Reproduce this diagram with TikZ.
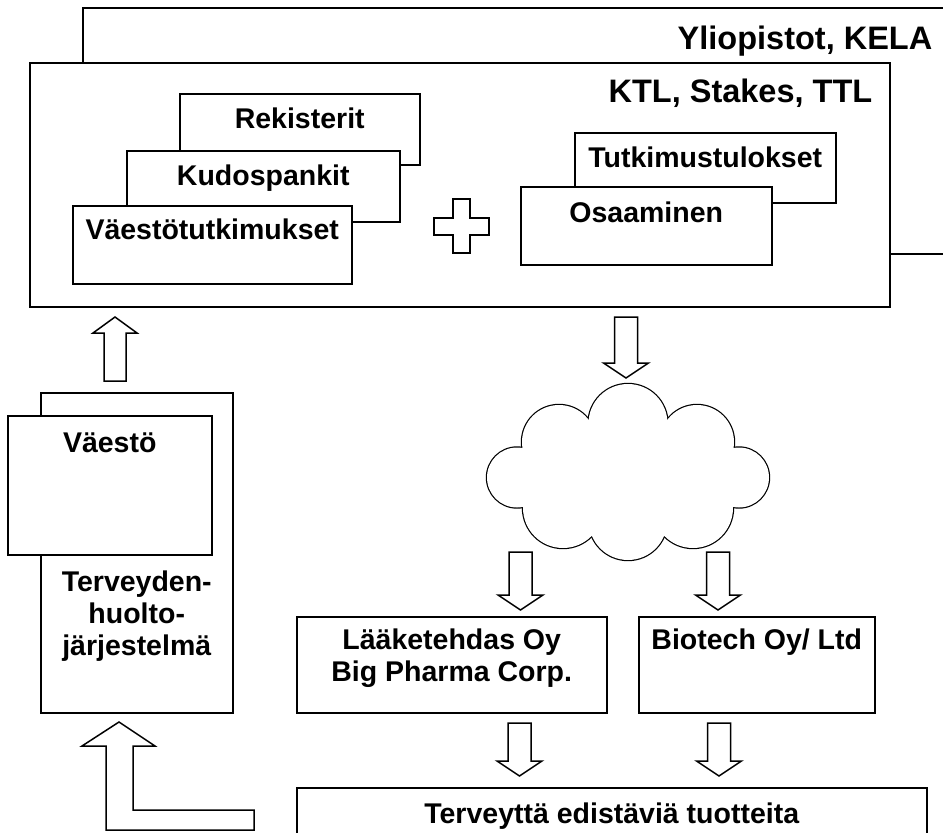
\documentclass[tikz,border=0pt]{standalone}
\usepackage{fontspec}
\setmainfont{Liberation Sans}
\usetikzlibrary{positioning}
\tikzset{
  every picture/.style={line width=1.5pt},
  card/.style={draw, fill=white, rectangle, anchor=north west, inner sep=0pt},
  lbl/.style={font=\bfseries\fontsize{28.5}{32}\selectfont, align=center, inner sep=0pt},
  title/.style={font=\bfseries\fontsize{32.5}{36}\selectfont, inner sep=0pt},
  blockarrow/.style={draw, fill=white, line width=1.5pt, line join=miter},
}
% hollow block arrows: x, start y, tip y
\newcommand{\blockdown}[3]{\draw[blockarrow] (#1-11.5,#2) -- (#1+11.5,#2) -- (#1+11.5,#3-15) -- (#1+22.5,#3-15) -- (#1,#3) -- (#1-22.5,#3-15) -- (#1-11.5,#3-15) -- cycle;}
\newcommand{\blockup}[3]{\draw[blockarrow] (#1-11,#2) -- (#1+11,#2) -- (#1+11,#3+16) -- (#1+22,#3+16) -- (#1,#3) -- (#1-22,#3+16) -- (#1-11,#3+16) -- cycle;}

\begin{document}
\begin{tikzpicture}[x=1pt, y=-1pt]
  \useasboundingbox (0,0) rectangle (943,833);
  \clip (0,0) rectangle (943,833);
  % research organisations
  \node[card, minimum width=898pt, minimum height=246pt] (uni) at (82,7) {};
  \node[title, anchor=base east] (unititle) at (933,49) {Yliopistot, KELA};
  \node[card, minimum width=860pt, minimum height=244pt] (ktl) at (29,62) {};
  \node[title, anchor=base east] (ktltitle) at (873,102) {KTL, Stakes, TTL};
  % data sources
  \node[card, minimum width=240pt, minimum height=71pt, label={[lbl, anchor=base, yshift=-35pt]north:Rekisterit}] (rek) at (179,93) {};
  \node[card, minimum width=273pt, minimum height=71pt, label={[lbl, anchor=base, yshift=-35pt]north:Kudospankit}] (kudos) at (126,150) {};
  \node[card, minimum width=279pt, minimum height=78pt, label={[lbl, anchor=base, yshift=-34pt]north:Väestötutkimukset}] (vtutk) at (72,205) {};
  \node[card, minimum width=261pt, minimum height=70pt, label={[lbl, anchor=base, yshift=-35pt]north:Tutkimustulokset}] (tulos) at (574,132) {};
  \node[card, minimum width=251pt, minimum height=78pt, label={[lbl, anchor=base, yshift=-36pt]north:Osaaminen}] (osaa) at (520,186) {};
  % plus sign
  \draw[blockarrow] (453,199) -- (470,199) -- (470,218) -- (489,218) -- (489,235) -- (470,235)
    -- (470,253) -- (453,253) -- (453,235) -- (434,235) -- (434,218) -- (453,218) -- cycle;
  % cloud
  \begin{scope}
    \foreach \cx/\cy/\r in {628/423.5/39.5, 697/442/37, 739/477.5/30, 693/508/40, 628/521/39, 563/508/40, 517/477.5/30, 559/442/37}
      \draw[line width=2.4pt] (\cx,\cy) circle (\r);
    \fill[white] (592,422) -- (664,422) -- (728,451) -- (728,504) -- (662,531) -- (594,531) -- (528,504) -- (528,451) -- cycle;
    \foreach \cx/\cy/\r in {628/423.5/39.5, 697/442/37, 739/477.5/30, 693/508/40, 628/521/39, 563/508/40, 517/477.5/30, 559/442/37}
      \fill[white] (\cx,\cy) circle (\r);
  \end{scope}
  % health care side
  \node[card, minimum width=192pt, minimum height=320pt, label={[lbl, anchor=base, yshift=-263pt]north:Terveyden-\\huolto-\\järjestelmä}] (terv) at (40,392) {};
  \node[card, minimum width=204pt, minimum height=139pt, label={[lbl, anchor=base, yshift=-37pt]north:Väestö}] (vaesto) at (7,415) {};
  % companies and products
  \node[card, minimum width=310pt, minimum height=96pt, label={[lbl, anchor=base, yshift=-65pt]north:Lääketehdas Oy\\Big Pharma Corp.}] (laake) at (296,616) {};
  \node[card, minimum width=236pt, minimum height=96pt, label={[lbl, anchor=base, yshift=-33pt]north:Biotech Oy/ Ltd}] (bio) at (638,616) {};
  \node[card, minimum width=630pt, minimum height=80pt, label={[lbl, anchor=base, yshift=-36pt]north:Terveyttä edistäviä tuotteita}] (tuote) at (296,787) {};
  % block arrows
  \blockup{115}{381}{317}
  \blockdown{626}{317}{378}
  \blockdown{520.5}{552}{610}
  \blockdown{718}{552}{610}
  \blockdown{519.5}{723}{776}
  \blockdown{719}{723}{776}
  \draw[blockarrow] (106,746) -- (82,746) -- (119,722) -- (155,746) -- (133,746) -- (133,810)
    -- (254,810) -- (254,830) -- (106,830) -- cycle;
\end{tikzpicture}
\end{document}
